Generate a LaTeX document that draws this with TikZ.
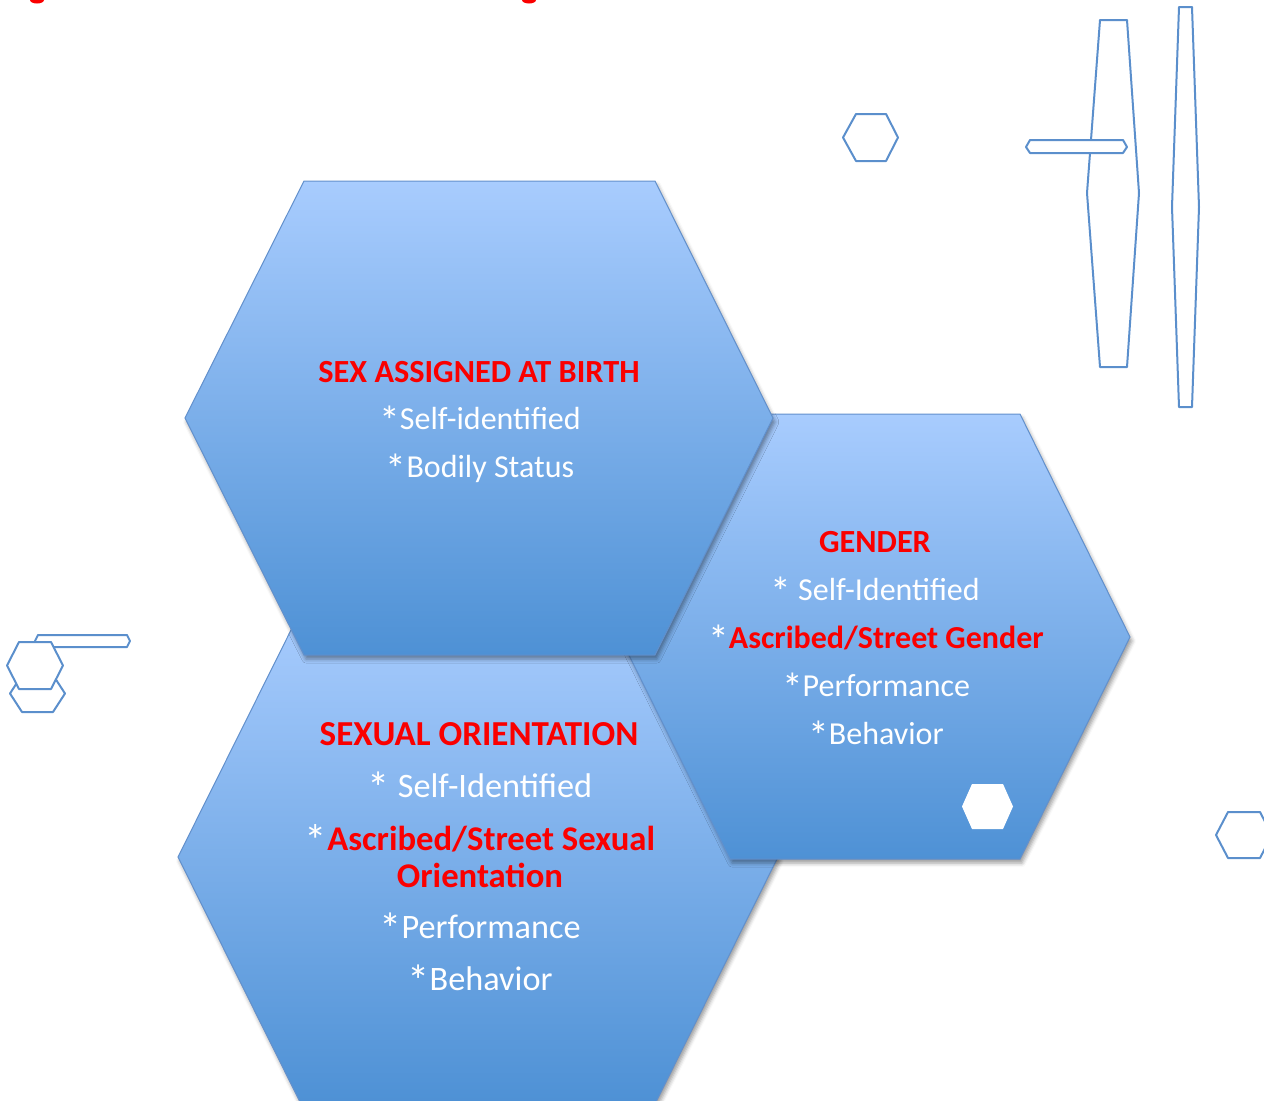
\documentclass[tikz,border=0pt]{standalone}
\usepackage{fontspec}
\setmainfont{Carlito}
\usetikzlibrary{shadows.blur}
\definecolor{hexTop}{RGB}{168,204,254}
\definecolor{hexBot}{RGB}{78,145,213}
\definecolor{hexLine}{RGB}{98,144,204}
\definecolor{outl}{RGB}{91,143,204}
\definecolor{titleRed}{RGB}{250,0,0}
\newcommand{\bigast}{\raisebox{-0.2em}{\scalebox{1.3}{*}}}
\begin{document}
\begin{tikzpicture}[x=0.75pt,y=-0.75pt,
  bighex/.style={draw=hexLine, line width=0.75pt, top color=hexTop, bottom color=hexBot,
    blur shadow={shadow xshift=1.5pt, shadow yshift=-3pt, shadow blur radius=3pt, shadow opacity=40}},
  outhex/.style={draw=outl, line width=1.5pt, fill=white, line join=round},
  ttl/.style={text=titleRed, font=\bfseries\fontsize{24.2}{28}\selectfont, anchor=base, inner sep=0pt},
  itm/.style={text=white, font=\fontsize{24}{28}\selectfont, anchor=base, inner sep=0pt},
  ttlB/.style={ttl, font=\bfseries\fontsize{26.3}{30}\selectfont},
  itmB/.style={itm, font=\fontsize{25.7}{30}\selectfont}]
\useasboundingbox (0,0) rectangle (1264,1100);

% clipped red marks at the very top
\fill[titleRed] (37,0) ellipse[x radius=7, y radius=3.5];
\fill[titleRed] (529,0) ellipse[x radius=7, y radius=3.5];

% decorative outlines, upper right
\draw[outhex] (1100,20) -- (1127,20) -- (1139,193) -- (1127,367) -- (1100,367) -- (1087,193) -- cycle;
\draw[outhex] (1179,7) -- (1192,7) -- (1199,207) -- (1192,407) -- (1179,407) -- (1172,207) -- cycle;
\draw[outhex] (1030,140) -- (1123,140) -- (1127,147) -- (1123,153) -- (1030,153) -- (1026,147) -- cycle;
\draw[outhex] (856,114) -- (886,114) -- (898,137.5) -- (886,161) -- (856,161) -- (843,137.5) -- cycle;
% right edge
\draw[outhex] (1228,812) -- (1260,812) -- (1272,835) -- (1260,858) -- (1228,858) -- (1216,835) -- cycle;
% left group
\draw[outhex] (22,675) -- (53,675) -- (65,693.5) -- (53,712) -- (22,712) -- (10,693.5) -- cycle;
\draw[outhex] (38,635) -- (127,635) -- (130,641) -- (127,647) -- (38,647) -- (35,641) -- cycle;
\draw[outhex] (19,642) -- (51,642) -- (63,665.5) -- (51,689) -- (19,689) -- (7,665.5) -- cycle;

% big hexagons
\path[bighex] (300,612) -- (656,612) -- (778,857) -- (656,1102) -- (300,1102) -- (178,857) -- cycle;
\path[bighex] (730,414) -- (1020,414) -- (1130,637) -- (1020,859) -- (730,859) -- (620,637) -- cycle;
\path[bighex] (304,181) -- (655,181) -- (773,418) -- (655,655) -- (304,655) -- (185,418) -- cycle;

% white hexagon inside gender
\fill[white] (972,784) -- (1003,784) -- (1013,806.5) -- (1003,829) -- (972,829) -- (962,806.5) -- cycle;

% sex assigned at birth
\node[ttl] (s1) at (479,382) {SEX ASSIGNED AT BIRTH};
\node[itm] (s2) at (480,429) {\bigast Self-identified};
\node[itm] (s3) at (480,477) {\bigast Bodily Status};

% gender
\node[ttl] (g1) at (875,552) {GENDER};
\node[itm] (g2) at (875,600) {\bigast{} Self-Identified};
\node[itm] (g3) at (876,648) {\bigast{\bfseries\color{titleRed}Ascribed/Street Gender}};
\node[itm] (g4) at (876,696) {\bigast Performance};
\node[itm] (g5) at (876,744) {\bigast Behavior};

% sexual orientation
\node[ttlB] (o1) at (479,745) {SEXUAL ORIENTATION};
\node[itmB] (o2) at (480,797) {\bigast{} Self-Identified};
\node[itm, align=center, font=\fontsize{26}{27.75}\selectfont] (o3) at (480,887)
  {\bigast{\bfseries\color{titleRed}Ascribed/Street Sexual}\\{\bfseries\color{titleRed}Orientation}};
\node[itmB] (o5) at (480,938) {\bigast Performance};
\node[itmB] (o6) at (480,990) {\bigast Behavior};
\end{tikzpicture}
\end{document}
